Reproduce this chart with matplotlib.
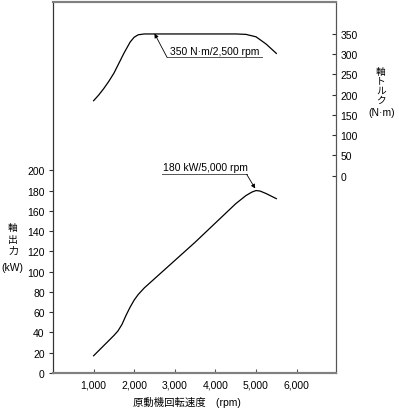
import numpy as np
import matplotlib
matplotlib.use("Agg")
import matplotlib.pyplot as plt

plt.rcParams['font.family'] = ['Liberation Sans', 'Noto Sans CJK JP', 'DejaVu Sans']
plt.rcParams['font.size'] = 7.5

# 軸出力 (kW)
rpm_power = [1000, 1250, 1500, 1600, 1700, 1800, 1900, 2000, 2100, 2250, 2500, 3000, 3500,
             4000, 4500, 4750, 4900, 5000, 5100, 5250, 5500]
power_kw = [17, 27, 37, 41.5, 48, 57, 65, 72, 77.5, 84, 93, 111, 129,
            148, 167, 175, 178.5, 180, 179.5, 177, 172]

# 軸トルク (N·m)
rpm_torque = [1000, 1125, 1250, 1375, 1500, 1750, 1900, 2000, 2100, 2250, 2500, 3000, 3500,
              4000, 4500, 4750, 5000, 5250, 5500]
torque_nm = [185, 199, 215, 233, 253, 303, 330, 342, 348, 350, 350, 350, 350,
             350, 350, 349, 343, 325, 302]

x_ticks = [1000, 2000, 3000, 4000, 5000, 6000]
x_labels = ["1,000", "2,000", "3,000", "4,000", "5,000", "6,000"]
power_ticks = list(range(0, 201, 20))
torque_ticks = list(range(0, 351, 50))

fig = plt.figure(figsize=(3.99, 4.10), dpi=100)
ax = fig.add_axes([53/399, 36/410, (336-53)/399, (374-3)/410])
ax2 = ax.twinx()

ax.plot(rpm_power, power_kw, color="black", lw=0.9)
ax2.plot(rpm_torque, torque_nm, color="black", lw=0.9)

ax.set_xlim(0, 6970)
ax.set_ylim(0, 366)
ax2.set_ylim(-488, 429)

ax.set_xticks(x_ticks)
ax.set_xticklabels(x_labels)
ax.set_yticks(power_ticks)
ax2.set_yticks(torque_ticks)

ax.tick_params(axis="x", direction="in", length=3, width=0.8, color="#555555", pad=5)
ax.tick_params(axis="y", direction="out", length=3, width=0.8, color="#333333", pad=3)
ax2.tick_params(axis="y", direction="in", length=3, width=0.8, color="#333333", pad=3)

for a in (ax, ax2):
    a.spines["top"].set_color("#808080")
    a.spines["top"].set_linewidth(1.5)
    a.spines["bottom"].set_color("#808080")
    a.spines["bottom"].set_linewidth(1.5)
    a.spines["left"].set_color("#333333")
    a.spines["right"].set_color("#555555")

# annotations
ax2.annotate("", xy=(2500, 351), xytext=(2810, 292),
             arrowprops=dict(arrowstyle="-|>", color="black", lw=0.6,
                             mutation_scale=6, shrinkA=0, shrinkB=0))
ax2.plot([2810, 5150], [292, 292], color="#555555", lw=0.7)
ax2.text(2880, 296, "350 N·m/2,500 rpm", ha="left", va="bottom")

ax.annotate("", xy=(4980, 182), xytext=(4770, 196),
            arrowprops=dict(arrowstyle="-|>", color="black", lw=0.6,
                            mutation_scale=6, shrinkA=0, shrinkB=0))
ax.plot([2680, 4770], [196, 196], color="#555555", lw=0.7)
ax.text(2700, 198, "180 kW/5,000 rpm", ha="left", va="bottom")

# axis labels (stacked vertical characters)
cjk = ["Noto Sans CJK JP", "DejaVu Sans"]
for ch, y in zip(["軸", "出", "力"], [228, 240, 251]):
    fig.text(13/399, 1 - y/410, ch, ha="center", va="center", family=cjk, fontsize=7)
fig.text(12/399, 1 - 268/410, "(kW)", ha="center", va="center")
for ch, y in zip(["軸", "ト", "ル", "ク"], [72, 81, 91, 101]):
    fig.text(381/399, 1 - y/410, ch, ha="center", va="center", family=cjk, fontsize=7)
fig.text(382/399, 1 - 113/410, "(N·m)", ha="center", va="center")
fig.text(187/399, 1 - 402/410, "原動機回転速度　(rpm)", ha="center", va="center")

fig.savefig("out.png", dpi=100)
